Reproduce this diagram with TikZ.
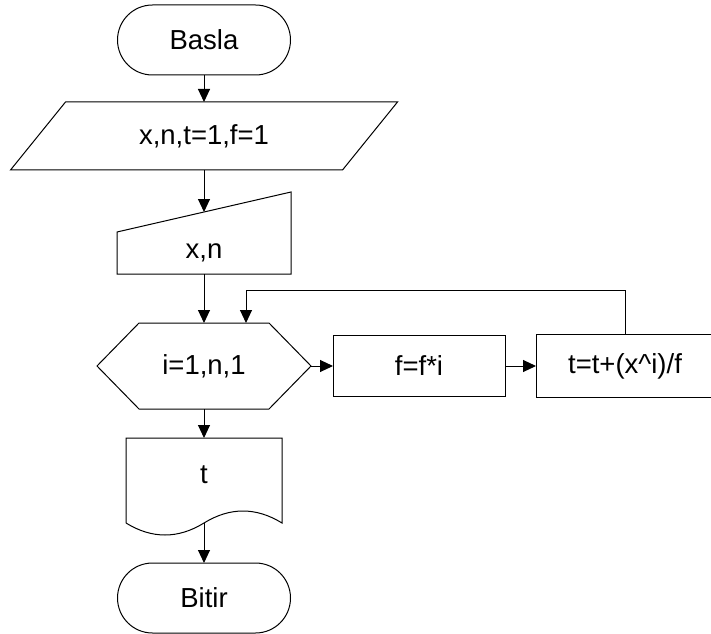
\documentclass[tikz,border=0pt]{standalone}
\usepackage{fontspec}
\setmainfont{Liberation Sans}
\usetikzlibrary{shapes.misc, arrows.meta, positioning}
\tikzset{
    flow/.style={font=\fontsize{27.5}{32}\selectfont},
    flow term/.style={rounded rectangle, draw, line width=1pt,
        minimum width=173pt, minimum height=70pt, inner sep=0pt, outer sep=0pt},
    flow box/.style={draw, line width=1pt,
        minimum width=172pt, minimum height=61pt, inner sep=0pt, outer sep=0pt},
    flow shape/.style={inner sep=0pt, outer sep=0pt},
    flow line/.style={line width=1pt},
    flow arrow/.style={-{Triangle[length=13pt, width=12pt]}, line width=1pt},
}

\begin{document}
\begin{tikzpicture}[flow, x=1pt, y=1pt]
  \useasboundingbox (0,0) rectangle (711,633);
  \node[flow term] (start) at (204,593) {Basla};
  \node[flow shape, minimum width=387pt, minimum height=68pt, below=27pt of start] (input) {x,n,t=1,f=1};
  \node[flow shape, minimum width=174pt, minimum height=42pt, below=62pt of input] (read) {x,n};
  \node[flow shape, minimum width=214pt, minimum height=86pt, below=49pt of read] (loop) {i=1,n,1};
  \node[flow box, right=22pt of loop] (fact) {f=f*i};
  \node[flow box, minimum width=178pt, minimum height=63pt, right=31pt of fact] (sum) {t=t+(x\textasciicircum i)/f};
  \node[flow shape, minimum width=156pt, minimum height=85pt, text depth=12pt, below=29pt of loop] (output) {t};
  \node[flow term, below=40pt of output] (stop) {Bitir};
  % outlines of the special shapes
  \draw[flow line] (input.south west) -- ([xshift=55pt]input.north west) -- (input.north east) -- ([xshift=-55pt]input.south east) -- cycle;
  \draw[flow line] (read.south west) -- (read.north west) -- ([yshift=40pt]read.north east) -- (read.south east) -- cycle;
  \draw[flow line] (loop.west) -- ([xshift=42pt]loop.north west) -- ([xshift=-42pt]loop.north east) -- (loop.east)
    -- ([xshift=-42pt]loop.south east) -- ([xshift=42pt]loop.south west) -- cycle;
  \draw[flow line] (output.south west) -- (output.north west) -- (output.north east) -- (output.south east)
    .. controls +(-26,16) and +(26,16) .. (output.south)
    .. controls +(-26,-16) and +(26,-16) .. (output.south west);
  % connectors
  \draw[flow arrow] (start) -- (input);
  \draw[flow arrow] (input) -- ([yshift=20pt]read.north);
  \draw[flow arrow] (read) -- (loop);
  \draw[flow arrow] (loop) -- (output);
  \draw[flow arrow] (output.south) -- (stop);
  \draw[flow arrow] (loop) -- (fact);
  \draw[flow arrow] (fact) -- (sum);
  \draw[flow arrow] (sum.north) -- ++(0,44) -| ([xshift=42pt]loop.north);
\end{tikzpicture}
\end{document}
